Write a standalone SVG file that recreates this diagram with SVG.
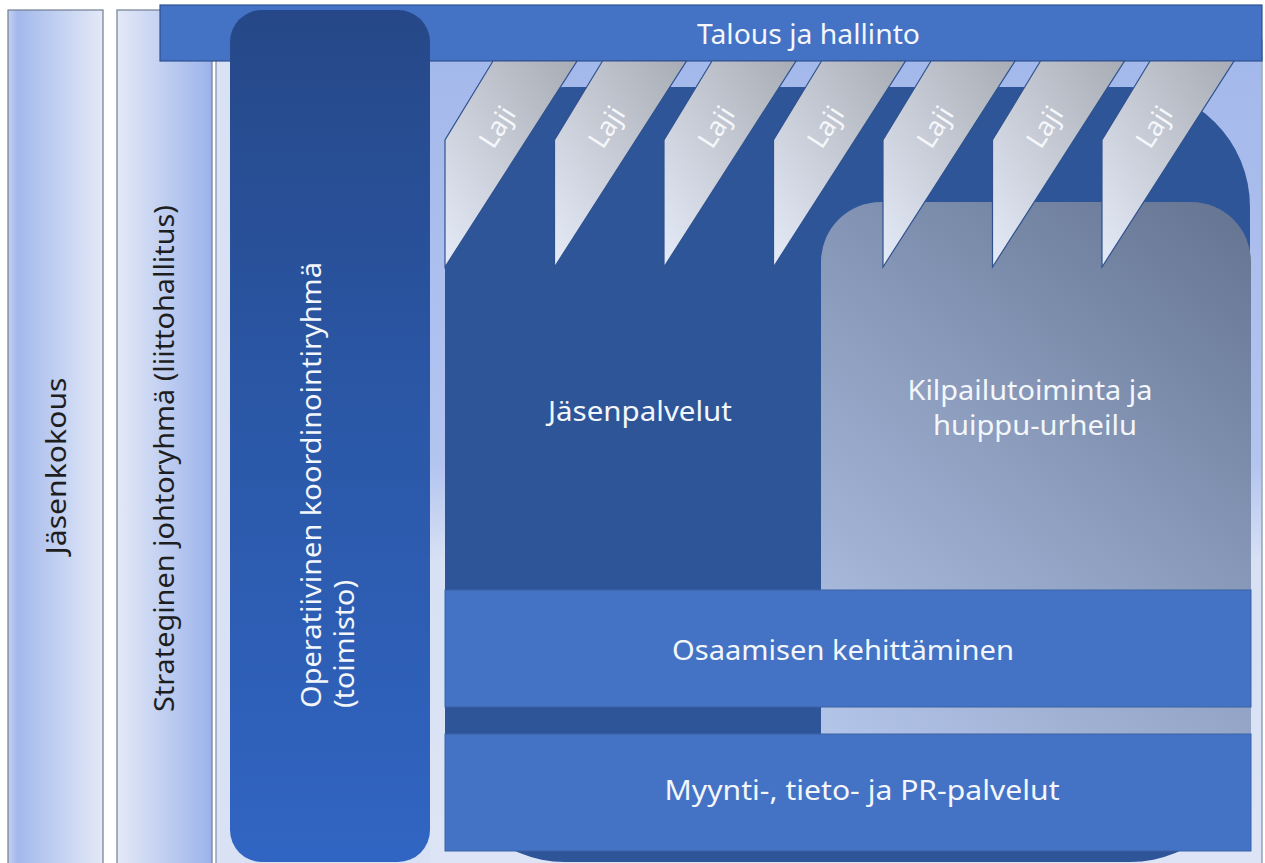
<svg xmlns="http://www.w3.org/2000/svg" width="1265" height="863" viewBox="0 0 1265 863">
<defs>
<linearGradient id="gJas" x1="0" y1="0" x2="1" y2="0">
<stop offset="0" stop-color="#c3d0f0"/><stop offset="0.1" stop-color="#a3b9ec"/><stop offset="1" stop-color="#e4e9f7"/>
</linearGradient>
<linearGradient id="gStr" x1="0" y1="0" x2="1" y2="0">
<stop offset="0" stop-color="#e4e9f7"/><stop offset="0.9" stop-color="#a3b9ec"/><stop offset="1" stop-color="#9ab2ea"/>
</linearGradient>
<linearGradient id="gOpe" x1="0" y1="0" x2="0" y2="1">
<stop offset="0" stop-color="#264888"/><stop offset="0.5" stop-color="#2b58a8"/><stop offset="1" stop-color="#3165c3"/>
</linearGradient>
<linearGradient id="gBack" x1="0" y1="0" x2="0" y2="1">
<stop offset="0" stop-color="#a4b9eb"/><stop offset="0.5" stop-color="#b3c4ef"/><stop offset="0.62" stop-color="#d8e1f4"/><stop offset="1" stop-color="#dce4f5"/>
</linearGradient>
<linearGradient id="gKil" gradientUnits="userSpaceOnUse" x1="821" y1="735" x2="1251" y2="202">
<stop offset="0" stop-color="#b3c5e9"/><stop offset="0.5" stop-color="#8c9dbe"/><stop offset="1" stop-color="#637390"/>
</linearGradient>
<linearGradient id="gLaji" x1="1" y1="0" x2="0" y2="1">
<stop offset="0" stop-color="#a8acb4"/><stop offset="1" stop-color="#e4eaf7"/>
</linearGradient>
<style>
.t{font-family:"Noto Sans","Open Sans","Liberation Sans",sans-serif;fill:#f3f6fb;}
.tk{font-family:"Noto Sans","Open Sans","Liberation Sans",sans-serif;fill:#1e1e1e;}
.bar{fill:#4472c4;stroke:#3a62a8;stroke-width:1;}
.laji{fill:url(#gLaji);stroke:#2f528f;stroke-width:1.2;}
.lt{font-family:"Noto Sans","Open Sans","Liberation Sans",sans-serif;fill:#f5f7fb;font-size:27px;text-anchor:middle;}
</style>
</defs>
<rect width="1265" height="863" fill="#ffffff"/>

<g id="jasenkokous">
<rect x="8" y="10" width="95" height="860" fill="url(#gJas)" stroke="#6f7e90" stroke-width="1.2"/>
<text class="tk" font-size="28" text-anchor="middle" textLength="177" lengthAdjust="spacingAndGlyphs" transform="translate(66,466) rotate(-90)">Jäsenkokous</text>
</g>

<g id="strateginen">
<rect x="117" y="10" width="95" height="860" fill="url(#gStr)" stroke="#6f7e90" stroke-width="1.2"/>
<text class="tk" font-size="28" text-anchor="middle" textLength="507" lengthAdjust="spacingAndGlyphs" transform="translate(174,458.5) rotate(-90)">Strateginen johtoryhmä (liittohallitus)</text>
</g>

<g id="container">
<rect x="216" y="40" width="1046" height="830" fill="#d9e2f4" stroke="#7f8ea3" stroke-width="1.2"/>
<rect x="430" y="60" width="831" height="810" fill="url(#gBack)"/>
</g>

<g id="talous">
<rect x="160" y="5" width="1102" height="56" fill="#4472c4" stroke="#2f528f" stroke-width="1.2"/>
<text class="t" x="808.5" y="44" font-size="28" text-anchor="middle" textLength="223" lengthAdjust="spacingAndGlyphs">Talous ja hallinto</text>
</g>

<g id="operatiivinen">
<rect x="230" y="10" width="200" height="852" rx="32" fill="url(#gOpe)"/>
<text class="t" font-size="28" textLength="446" lengthAdjust="spacingAndGlyphs" transform="translate(321,708) rotate(-90)">Operatiivinen koordinointiryhmä</text>
<text class="t" font-size="28" textLength="128" lengthAdjust="spacingAndGlyphs" transform="translate(354,708) rotate(-90)">(toimisto)</text>
</g>

<g id="jasenpalvelut">
<rect x="445" y="87" width="805" height="775" rx="120" ry="120" fill="#2e5597"/>
<text class="t" x="640" y="421" font-size="28" text-anchor="middle" textLength="184" lengthAdjust="spacingAndGlyphs">Jäsenpalvelut</text>
</g>

<g id="kilpailutoiminta">
<path d="M821,262 A60,60 0 0 1 881,202 L1191,202 A60,60 0 0 1 1251,262 L1251,780 L821,780 Z" fill="url(#gKil)"/>
<text class="t" x="1030" y="400" font-size="28" text-anchor="middle" textLength="245" lengthAdjust="spacingAndGlyphs">Kilpailutoiminta ja</text>
<text class="t" x="1035" y="435" font-size="28" text-anchor="middle" textLength="204" lengthAdjust="spacingAndGlyphs">huippu-urheilu</text>
</g>

<g id="laji-1">
<polygon class="laji" points="493,61 577,61 445,267 445,140"/>
<text class="lt" dy="0.35em" transform="translate(497,127) rotate(-57)">Laji</text>
</g>
<g id="laji-2">
<polygon class="laji" points="602.5,61 686.5,61 554.5,267 554.5,140"/>
<text class="lt" dy="0.35em" transform="translate(606.5,127) rotate(-57)">Laji</text>
</g>
<g id="laji-3">
<polygon class="laji" points="712,61 796,61 664,267 664,140"/>
<text class="lt" dy="0.35em" transform="translate(716,127) rotate(-57)">Laji</text>
</g>
<g id="laji-4">
<polygon class="laji" points="821.5,61 905.5,61 773.5,267 773.5,140"/>
<text class="lt" dy="0.35em" transform="translate(825.5,127) rotate(-57)">Laji</text>
</g>
<g id="laji-5">
<polygon class="laji" points="931,61 1015,61 883,267 883,140"/>
<text class="lt" dy="0.35em" transform="translate(935,127) rotate(-57)">Laji</text>
</g>
<g id="laji-6">
<polygon class="laji" points="1040.5,61 1124.5,61 992.5,267 992.5,140"/>
<text class="lt" dy="0.35em" transform="translate(1044.5,127) rotate(-57)">Laji</text>
</g>
<g id="laji-7">
<polygon class="laji" points="1150,61 1234,61 1102,267 1102,140"/>
<text class="lt" dy="0.35em" transform="translate(1154,127) rotate(-57)">Laji</text>
</g>

<g id="osaaminen">
<rect class="bar" x="445" y="590" width="806" height="117"/>
<text class="t" x="843" y="660" font-size="28" text-anchor="middle" textLength="342" lengthAdjust="spacingAndGlyphs">Osaamisen kehittäminen</text>
</g>

<g id="myynti">
<rect class="bar" x="445" y="734" width="806" height="117"/>
<text class="t" x="862" y="800" font-size="28" text-anchor="middle" textLength="395" lengthAdjust="spacingAndGlyphs">Myynti-, tieto- ja PR-palvelut</text>
</g>

<g id="connectors"/>
</svg>
